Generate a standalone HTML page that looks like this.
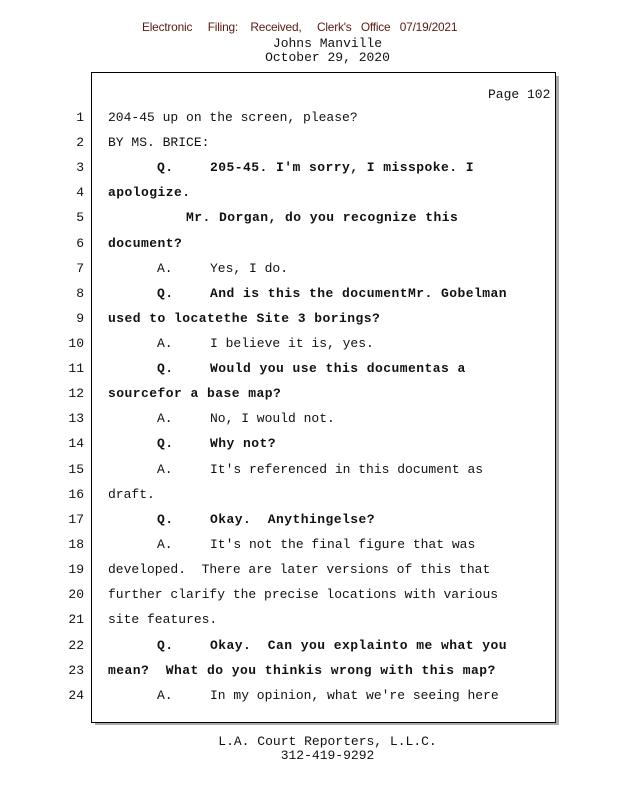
<!DOCTYPE html>
<html><head><meta charset="utf-8"><style>
body{margin:0;width:618px;height:800px;background:#fff;position:relative;overflow:hidden;font-family:"Liberation Mono",monospace;font-size:13px;color:#111}
.a{position:absolute;white-space:pre;line-height:15px}
.b{font-weight:bold;letter-spacing:0.45px}
.n{position:absolute;width:30px;left:54px;text-align:right;white-space:pre;line-height:15px}
.hdr{position:absolute;top:20px;left:142px;font-family:"Liberation Sans",sans-serif;font-size:12px;color:#5a1a10;white-space:pre;transform:scaleX(0.99);transform-origin:left;letter-spacing:-0.2px}
</style></head><body>
<div class="hdr">Electronic     Filing:    Received,     Clerk's   Office   07/19/2021</div>
<div class="a" style="left:0;width:655px;text-align:center;top:36px">Johns Manville</div>
<div class="a" style="left:0;width:655px;text-align:center;top:50px">October 29, 2020</div>
<div style="position:absolute;left:95px;top:76px;width:464px;height:649px;background:#aaa"></div>
<div style="position:absolute;left:91px;top:72px;width:463px;height:649px;border:1px solid #000;background:#fff"></div>
<div class="a" style="left:488px;top:87px">Page 102</div>
<div class="n" style="top:110px">1</div><div class="a" style="left:108px;top:110px">204-45 up on the screen, please?</div>
<div class="n" style="top:135px">2</div><div class="a" style="left:108px;top:135px">BY MS. BRICE:</div>
<div class="n" style="top:160px">3</div><div class="a b" style="left:157px;top:160px">Q.</div><div class="a b" style="left:210px;top:160px">205-45. I'm sorry, I misspoke. I</div>
<div class="n" style="top:185px">4</div><div class="a b" style="left:108px;top:185px">apologize.</div>
<div class="n" style="top:210px">5</div><div class="a b" style="left:186px;top:210px">Mr. Dorgan, do you recognize this</div>
<div class="n" style="top:236px">6</div><div class="a b" style="left:108px;top:236px">document?</div>
<div class="n" style="top:261px">7</div><div class="a" style="left:157px;top:261px">A.</div><div class="a" style="left:210px;top:261px">Yes, I do.</div>
<div class="n" style="top:286px">8</div><div class="a b" style="left:157px;top:286px">Q.</div><div class="a b" style="left:210px;top:286px">And is this the documentMr. Gobelman</div>
<div class="n" style="top:311px">9</div><div class="a b" style="left:108px;top:311px">used to locatethe Site 3 borings?</div>
<div class="n" style="top:336px">10</div><div class="a" style="left:157px;top:336px">A.</div><div class="a" style="left:210px;top:336px">I believe it is, yes.</div>
<div class="n" style="top:361px">11</div><div class="a b" style="left:157px;top:361px">Q.</div><div class="a b" style="left:210px;top:361px">Would you use this documentas a</div>
<div class="n" style="top:386px">12</div><div class="a b" style="left:108px;top:386px">sourcefor a base map?</div>
<div class="n" style="top:411px">13</div><div class="a" style="left:157px;top:411px">A.</div><div class="a" style="left:210px;top:411px">No, I would not.</div>
<div class="n" style="top:436px">14</div><div class="a b" style="left:157px;top:436px">Q.</div><div class="a b" style="left:210px;top:436px">Why not?</div>
<div class="n" style="top:462px">15</div><div class="a" style="left:157px;top:462px">A.</div><div class="a" style="left:210px;top:462px">It's referenced in this document as</div>
<div class="n" style="top:487px">16</div><div class="a" style="left:108px;top:487px">draft.</div>
<div class="n" style="top:512px">17</div><div class="a b" style="left:157px;top:512px">Q.</div><div class="a b" style="left:210px;top:512px">Okay.  Anythingelse?</div>
<div class="n" style="top:537px">18</div><div class="a" style="left:157px;top:537px">A.</div><div class="a" style="left:210px;top:537px">It's not the final figure that was</div>
<div class="n" style="top:562px">19</div><div class="a" style="left:108px;top:562px">developed.  There are later versions of this that</div>
<div class="n" style="top:587px">20</div><div class="a" style="left:108px;top:587px">further clarify the precise locations with various</div>
<div class="n" style="top:612px">21</div><div class="a" style="left:108px;top:612px">site features.</div>
<div class="n" style="top:638px">22</div><div class="a b" style="left:157px;top:638px">Q.</div><div class="a b" style="left:210px;top:638px">Okay.  Can you explainto me what you</div>
<div class="n" style="top:663px">23</div><div class="a b" style="left:108px;top:663px">mean?  What do you thinkis wrong with this map?</div>
<div class="n" style="top:688px">24</div><div class="a" style="left:157px;top:688px">A.</div><div class="a" style="left:210px;top:688px">In my opinion, what we're seeing here</div>
<div class="a" style="left:0;width:655px;text-align:center;top:734px">L.A. Court Reporters, L.L.C.</div>
<div class="a" style="left:0;width:655px;text-align:center;top:748px">312-419-9292</div>
</body></html>
